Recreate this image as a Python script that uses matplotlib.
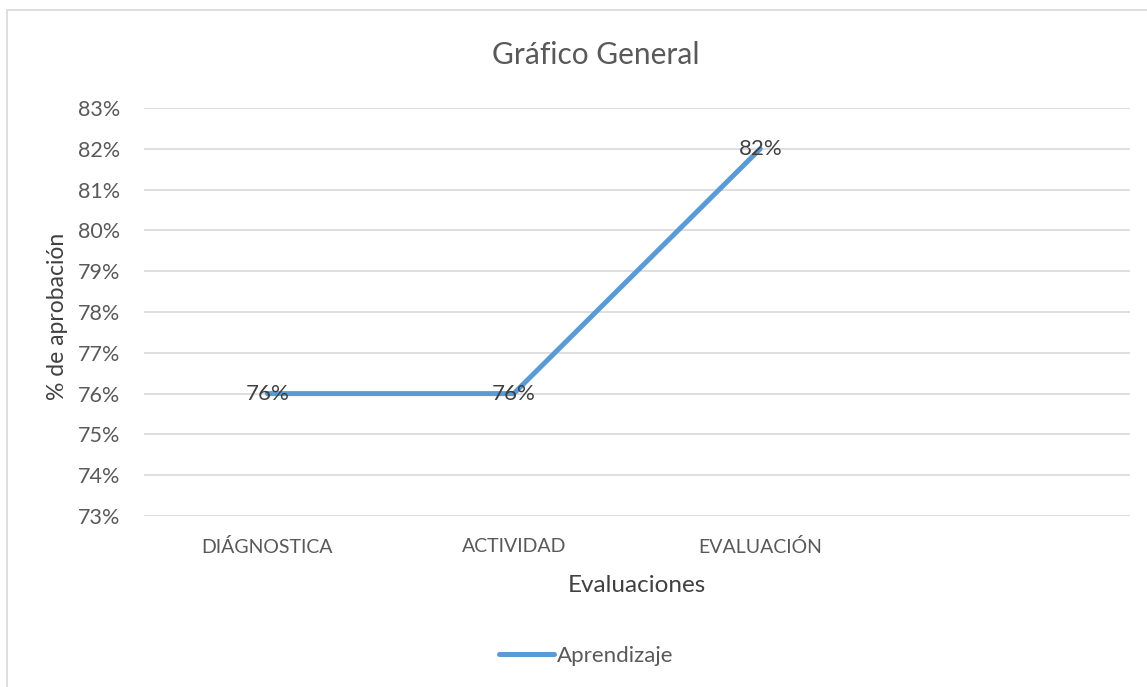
import matplotlib
matplotlib.use("Agg")
import matplotlib.pyplot as plt
from matplotlib.patches import Rectangle
from matplotlib.ticker import PercentFormatter

categories = ["DIÁGNOSTICA", "ACTIVIDAD", "EVALUACIÓN", ""]
values = [0.76, 0.76, 0.82]
series_name = "Aprendizaje"
title = "Gráfico General"
x_title = "Evaluaciones"
y_title = "% de aprobación"
y_min, y_max, y_step = 0.73, 0.83, 0.01

plt.rcParams['font.family'] = ['Lato', 'DejaVu Sans']

W, H = 1147, 687
fig = plt.figure(figsize=(W / 100, H / 100), dpi=100)
fig.patch.set_facecolor("white")

# outer chart border
fig.patches.append(Rectangle((7 / W, -0.1), 1.2, (1 - 10 / H) + 0.1,
                             transform=fig.transFigure, fill=False,
                             edgecolor="#D9D9D9", lw=1.2))

left, right = 144 / W, 1130 / W
bottom, top = 1 - 516 / H, 1 - 108 / H
ax = fig.add_axes([left, bottom, right - left, top - bottom])

xs = list(range(len(values)))
line, = ax.plot(xs, values, color="#5B9BD5", lw=3.6, solid_capstyle="round",
                solid_joinstyle="round", label=series_name, zorder=3)

for x, v in zip(xs, values):
    ax.text(x, v, f"{v*100:.0f}%", ha="center", va="center",
            fontsize=16, color="#404040", zorder=4)

ax.set_xlim(-0.5, len(categories) - 0.5)
ax.set_ylim(y_min, y_max)
n = int(round((y_max - y_min) / y_step))
ax.set_yticks([y_min + i * y_step for i in range(n + 1)])
ax.yaxis.set_major_formatter(PercentFormatter(1.0, decimals=0))
ax.set_xticks(range(len(categories)))
ax.set_xticklabels(categories)

ax.tick_params(axis="both", length=0, colors="#595959")
ax.tick_params(axis="y", pad=17, labelsize=15.5)
ax.tick_params(axis="x", pad=16, labelsize=14)
ax.grid(axis="y", color="#D9D9D9", lw=1.2)
ax.set_axisbelow(True)
for s in ax.spines.values():
    s.set_visible(False)

fig.text(596 / W, 1 - 55 / H, title, ha="center", va="center",
         fontsize=21.5, color="#595959")
fig.text(637 / W, 1 - 585 / H, x_title, ha="center", va="center",
         fontsize=17.5, color="#404040")
fig.text(58 / W, 1 - 316 / H, y_title, ha="center", va="center",
         rotation=90, fontsize=16.5, color="#404040")

leg = fig.legend(handles=[line], loc="center", bbox_to_anchor=(586 / W, 1 - 656 / H),
                 frameon=False, fontsize=16, handlelength=2.5, handletextpad=0.1,
                 labelcolor="#595959")

fig.savefig("out.png", dpi=100, facecolor="white")
